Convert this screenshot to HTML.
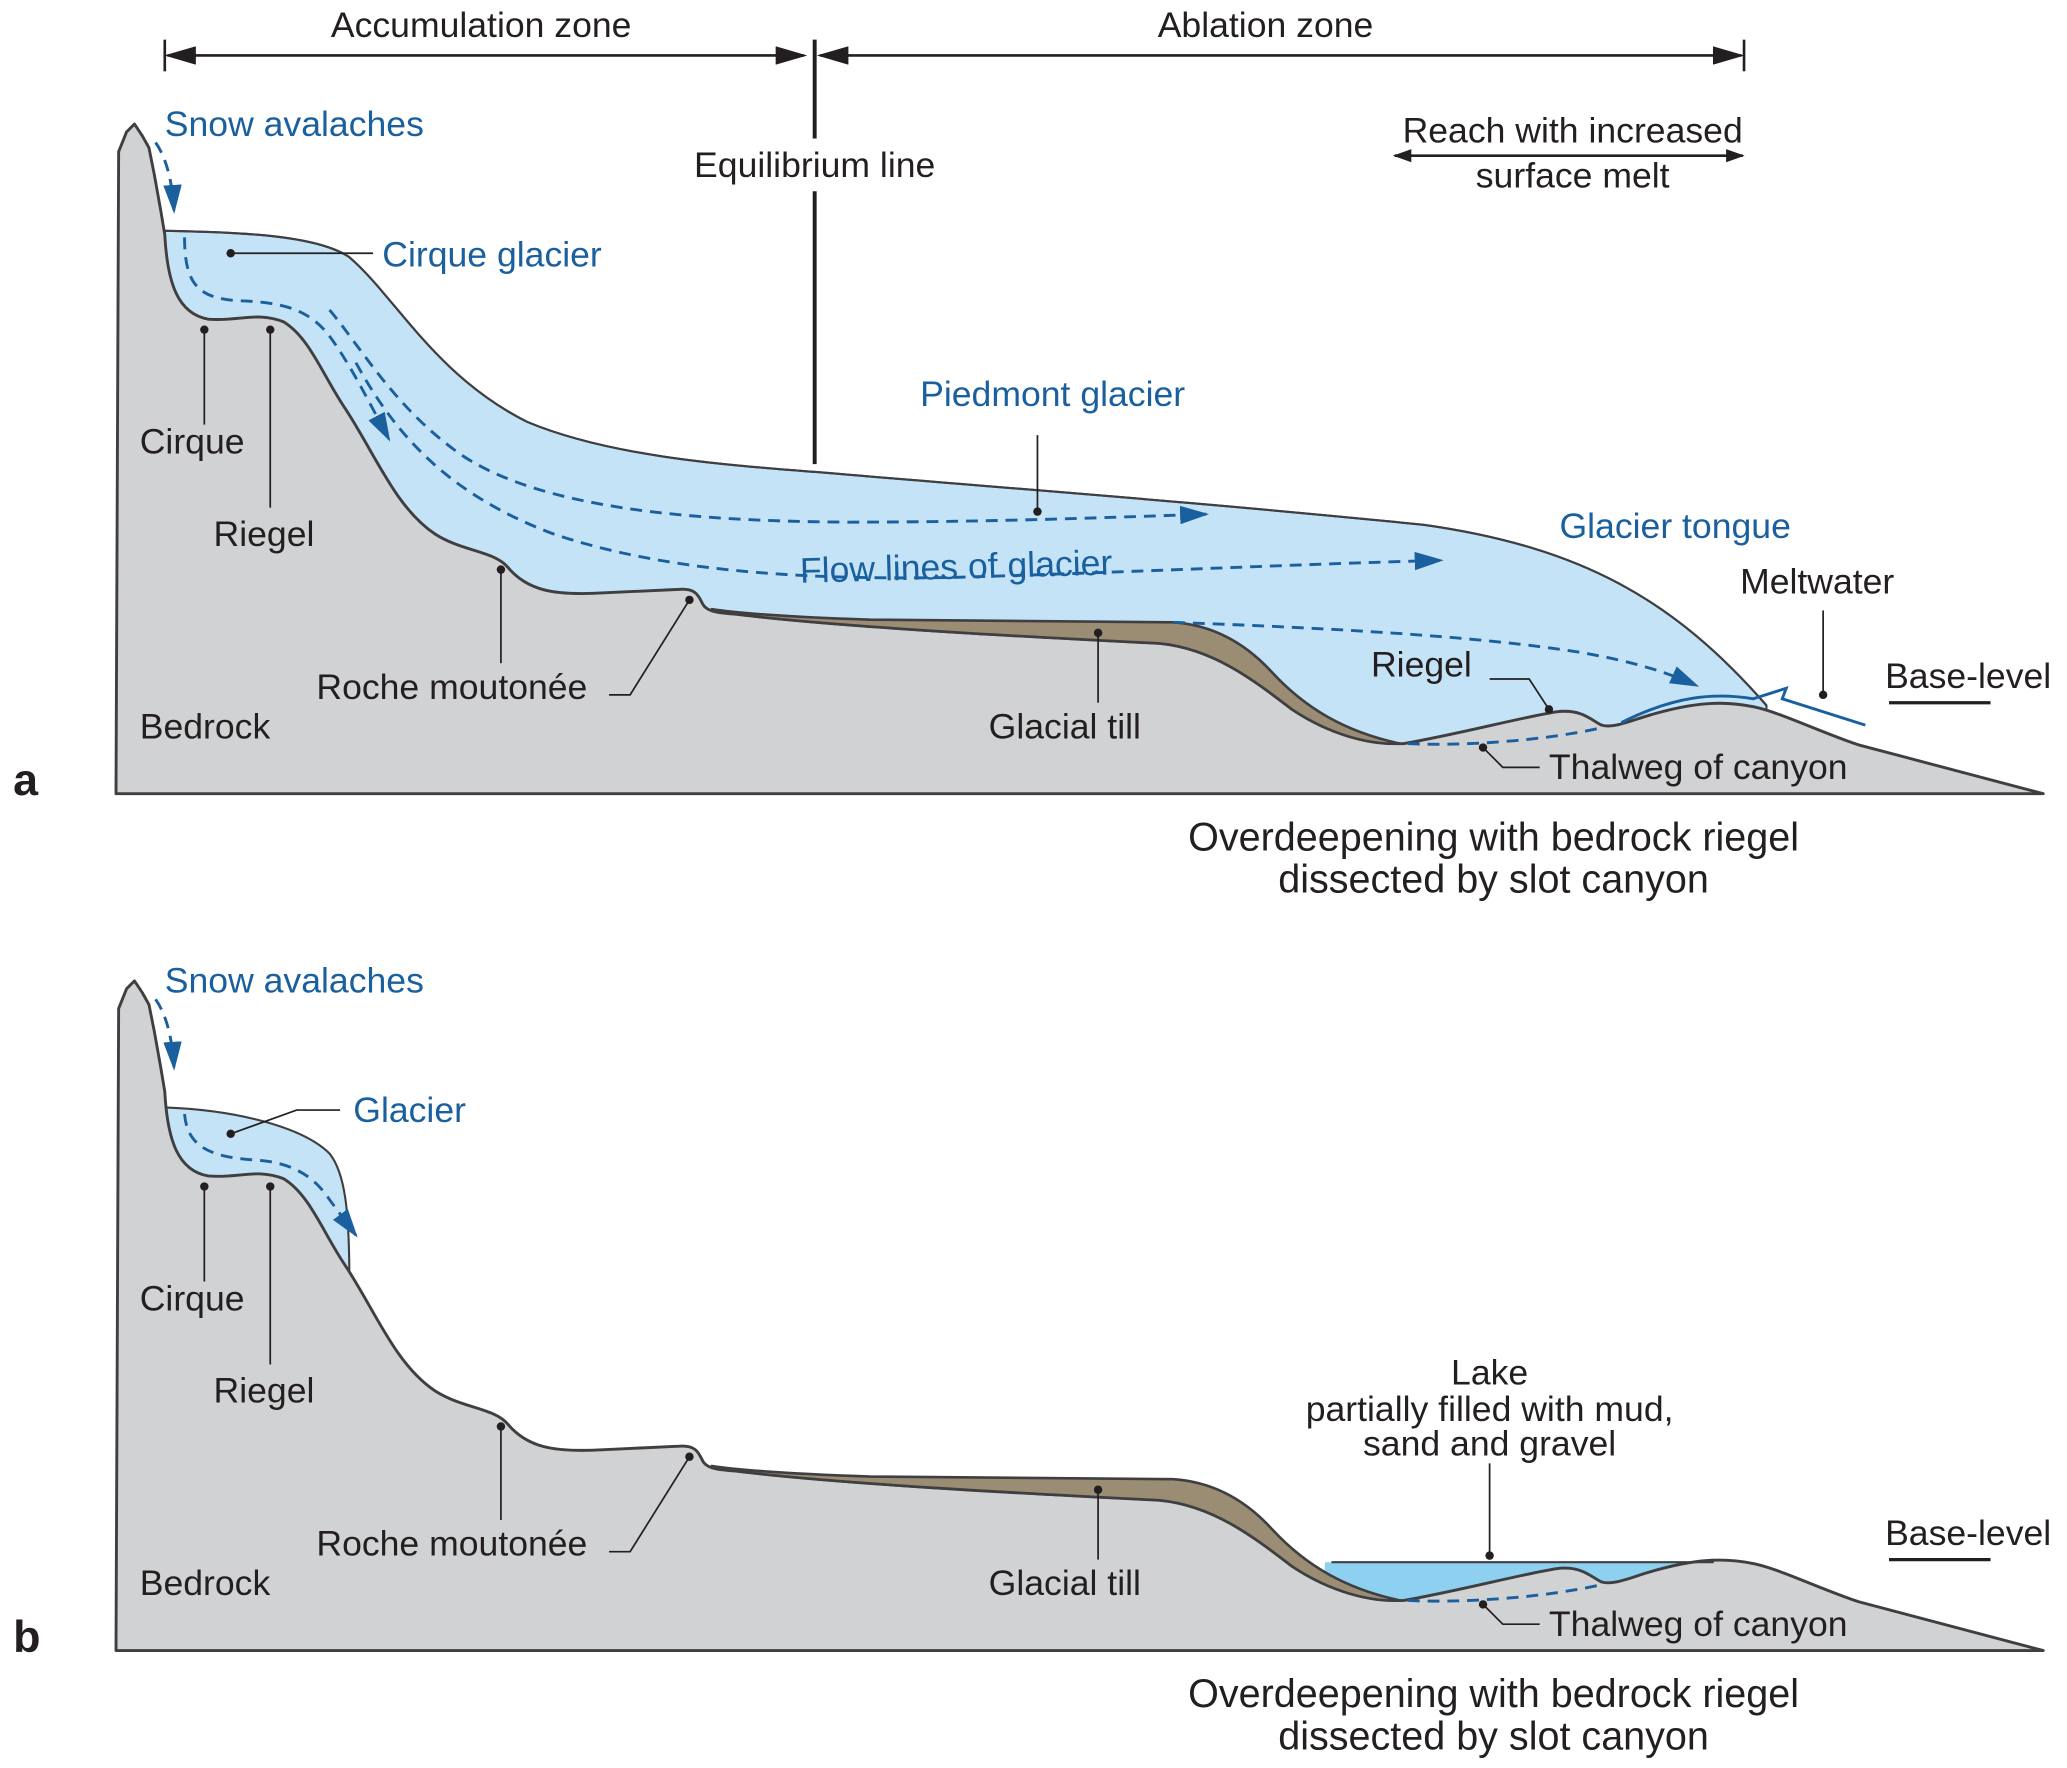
<!DOCTYPE html>
<html><head><meta charset="utf-8"><style>
html,body{margin:0;padding:0;background:#fff;}
svg{display:block;}
text{font-family:"Liberation Sans",Arial,sans-serif;font-size:27px;fill:#231f20;}
.b{fill:#1a5f9e;}
.cap{font-size:30px;}
</style></head><body>
<svg width="2067" height="1768" viewBox="0 0 1568 1341" xmlns="http://www.w3.org/2000/svg">
<defs>
<marker id="ah" viewBox="0 0 10 10" refX="9" refY="5" markerWidth="22" markerHeight="14" orient="auto-start-reverse" markerUnits="userSpaceOnUse" preserveAspectRatio="none"><path d="M0,0 L10,5 L0,10z" fill="#1a5f9e"/></marker>
<marker id="bk" viewBox="0 0 10 10" refX="9" refY="5" markerWidth="24" markerHeight="14" orient="auto-start-reverse" markerUnits="userSpaceOnUse" preserveAspectRatio="none"><path d="M0,0 L10,5 L0,10z" fill="#231f20"/></marker>
<marker id="sk" viewBox="0 0 10 10" refX="9" refY="5" markerWidth="14" markerHeight="10" orient="auto-start-reverse" markerUnits="userSpaceOnUse" preserveAspectRatio="none"><path d="M0,0 L10,5 L0,10z" fill="#231f20"/></marker>
<g id="bed">
<path d="M88,602 L90,115 L96,100 L102,94 L108,103 L113,112 L117,132 L122,160 L125,178 C127,215 135,238 158,242 C180,244 195,236 215,244 C235,256 245,285 262,310 C285,345 300,385 330,405 C350,418 375,418 385,430 C400,448 420,451 450,450 L515,447 C528,446 530,452 533,458 C536,464 545,465 560,466 C640,476 800,484 880,488 C920,492 950,515 980,538 C1010,558 1040,565 1065,564 C1110,556 1150,545 1180,540 C1200,537 1208,547 1215,550 C1225,553 1240,545 1260,540 C1290,532 1310,532 1330,536 C1350,540 1380,555 1410,565 L1550,602 Z" fill="#d1d2d4" stroke="#3f3f42" stroke-width="2.2" stroke-linejoin="round"/>
<path d="M540,462 C560,465 600,468 660,470 L890,472 C920,474 945,488 965,510 C990,537 1020,555 1062,564 C1040,565 1010,558 980,538 C950,515 920,492 880,488 C800,484 640,476 560,466 Z" fill="#9b8c74" stroke="#3f3f42" stroke-width="2" stroke-linejoin="round"/>
</g>
</defs>

<!-- Panel a -->
<path d="M125,175 C180,176 240,178 265,195 C300,225 330,285 400,320 C460,345 540,352 620,358 C760,370 900,380 1080,398 C1200,415 1270,455 1340,535 L1340,600 L125,600 Z" fill="#c5e3f6" stroke="#3f3f42" stroke-width="1.6"/>
<use href="#bed"/>
<path d="M125,175 C180,176 240,178 265,195 C300,225 330,285 400,320 C460,345 540,352 620,358 C760,370 900,380 1080,398 C1200,415 1270,455 1340,535" fill="none" stroke="#3f3f42" stroke-width="1.6"/>

<g fill="none" stroke="#1a5f9e" stroke-width="2.2" stroke-dasharray="9,6">
<path d="M118,108 Q130,125 132,160" marker-end="url(#ah)"/>
<path d="M140,180 C140,215 150,226 180,228 C215,229 235,235 250,255 C265,275 280,305 295,333" marker-end="url(#ah)"/>
<path d="M250,235 C275,265 300,310 350,345 C410,385 520,395 640,396 C760,396 850,392 915,390" marker-end="url(#ah)"/>
<path d="M270,275 C300,330 340,375 420,405 C500,432 600,440 720,438 C860,434 980,428 1093,425" marker-end="url(#ah)"/>
<path d="M890,472 C1000,476 1120,482 1200,495 C1240,502 1265,510 1287,520" marker-end="url(#ah)"/>
<path d="M1068,564 C1110,566 1170,562 1215,552"/>
</g>
<path d="M1230,548 C1270,528 1300,525 1330,530 L1355,522 L1352,530 L1415,550" fill="none" stroke="#1a5f9e" stroke-width="2.2"/>

<g stroke="#231f20" stroke-width="2" fill="none">
<line x1="125" y1="30" x2="125" y2="54"/>
<line x1="1323" y1="30" x2="1323" y2="54"/>
<line x1="127" y1="42" x2="610" y2="42" marker-start="url(#bk)" marker-end="url(#bk)"/>
<line x1="622" y1="42" x2="1321" y2="42" marker-start="url(#bk)" marker-end="url(#bk)"/>
<line x1="618" y1="30" x2="618" y2="105" stroke-width="3"/>
<line x1="618" y1="145" x2="618" y2="352" stroke-width="3"/>
<line x1="1058" y1="118" x2="1322" y2="118" marker-start="url(#sk)" marker-end="url(#sk)"/>
<line x1="1433" y1="533" x2="1510" y2="533" stroke-width="2.5"/>
</g>
<text x="365" y="28" text-anchor="middle">Accumulation zone</text>
<text x="960" y="28" text-anchor="middle">Ablation zone</text>
<text x="618" y="134" text-anchor="middle">Equilibrium line</text>
<text x="1193" y="108" text-anchor="middle">Reach with increased</text>
<text x="1193" y="142" text-anchor="middle">surface melt</text>
<text x="125" y="103" class="b">Snow avalaches</text>
<text x="290" y="202" class="b">Cirque glacier</text>
<text x="698" y="308" class="b">Piedmont glacier</text>
<text x="1183" y="408" class="b">Glacier tongue</text>
<text x="607" y="442" class="b" transform="rotate(-1.5 607 440)">Flow lines of glacier</text>
<text x="1320" y="450">Meltwater</text>
<text x="1430" y="522">Base-level</text>
<text x="1040" y="513">Riegel</text>
<text x="1175" y="591">Thalweg of canyon</text>
<text x="750" y="560">Glacial till</text>
<text x="240" y="530">Roche moutonée</text>
<text x="106" y="560">Bedrock</text>
<text x="106" y="344">Cirque</text>
<text x="162" y="414">Riegel</text>
<text x="10" y="603" style="font-size:34px;font-weight:bold">a</text>
<text x="1133" y="645" text-anchor="middle" class="cap">Overdeepening with bedrock riegel</text>
<text x="1133" y="677" text-anchor="middle" class="cap">dissected by slot canyon</text>
<g stroke="#231f20" stroke-width="1.3" fill="none">
<path d="M175,192 L283,192"/><path d="M155,250 L155,322"/><path d="M205,250 L205,385"/>
<path d="M380,432 L380,503"/><path d="M523,455 L478,527 L462,527"/><path d="M833,480 L833,533"/>
<path d="M787,388 L787,330"/><path d="M1175,538 L1160,515 L1130,515"/><path d="M1383,527 L1383,463"/>
<path d="M1125,567 L1140,582 L1168,582"/>
</g>
<g fill="#231f20">
<circle cx="175" cy="192" r="3.2"/><circle cx="155" cy="250" r="3.2"/><circle cx="205" cy="250" r="3.2"/>
<circle cx="380" cy="432" r="3.2"/><circle cx="523" cy="455" r="3.2"/><circle cx="833" cy="480" r="3.2"/>
<circle cx="787" cy="388" r="3.2"/><circle cx="1175" cy="538" r="3.2"/><circle cx="1383" cy="527" r="3.2"/><circle cx="1125" cy="567" r="3.2"/>
</g>

<!-- Panel b -->
<g transform="translate(0,650)">
<path d="M1005,535 L1300,535 L1300,600 L1005,600 Z" fill="#8ed0f0"/>
<path d="M125,190 C180,192 230,205 250,225 C262,240 265,270 265,320 L265,400 L125,400 Z" fill="#c5e3f6" stroke="#3f3f42" stroke-width="1.6"/>
<use href="#bed"/>
<line x1="1010" y1="535" x2="1300" y2="535" stroke="#3f3f42" stroke-width="1.6"/>
<g fill="none" stroke="#1a5f9e" stroke-width="2.2" stroke-dasharray="9,6">
<path d="M118,108 Q130,125 132,160" marker-end="url(#ah)"/>
<path d="M140,195 C142,220 160,228 195,230 C225,232 240,245 250,260 L270,287" marker-end="url(#ah)"/>
<path d="M1068,564 C1110,566 1170,562 1215,552"/>
</g>
<g stroke="#231f20" stroke-width="1.3" fill="none">
<path d="M175,210 L225,192 L258,192"/><path d="M155,250 L155,322"/><path d="M205,250 L205,385"/>
<path d="M380,432 L380,503"/><path d="M523,455 L478,527 L462,527"/><path d="M833,480 L833,533"/>
<path d="M1130,530 L1130,460"/><path d="M1125,567 L1140,582 L1168,582"/>
<line x1="1433" y1="533" x2="1510" y2="533" stroke-width="2.5"/>
</g>
<g fill="#231f20">
<circle cx="175" cy="210" r="3.2"/><circle cx="155" cy="250" r="3.2"/><circle cx="205" cy="250" r="3.2"/>
<circle cx="380" cy="432" r="3.2"/><circle cx="523" cy="455" r="3.2"/><circle cx="833" cy="480" r="3.2"/>
<circle cx="1130" cy="530" r="3.2"/><circle cx="1125" cy="567" r="3.2"/>
</g>
<text x="125" y="103" class="b">Snow avalaches</text>
<text x="268" y="201" class="b">Glacier</text>
<text x="1430" y="522">Base-level</text>
<text x="1130" y="400" text-anchor="middle">Lake</text>
<text x="1130" y="428" text-anchor="middle">partially filled with mud,</text>
<text x="1130" y="454" text-anchor="middle">sand and gravel</text>
<text x="1175" y="591">Thalweg of canyon</text>
<text x="750" y="560">Glacial till</text>
<text x="240" y="530">Roche moutonée</text>
<text x="106" y="560">Bedrock</text>
<text x="106" y="344">Cirque</text>
<text x="162" y="414">Riegel</text>
<text x="10" y="603" style="font-size:34px;font-weight:bold">b</text>
<text x="1133" y="645" text-anchor="middle" class="cap">Overdeepening with bedrock riegel</text>
<text x="1133" y="677" text-anchor="middle" class="cap">dissected by slot canyon</text>
</g>
</svg>
</body></html>
